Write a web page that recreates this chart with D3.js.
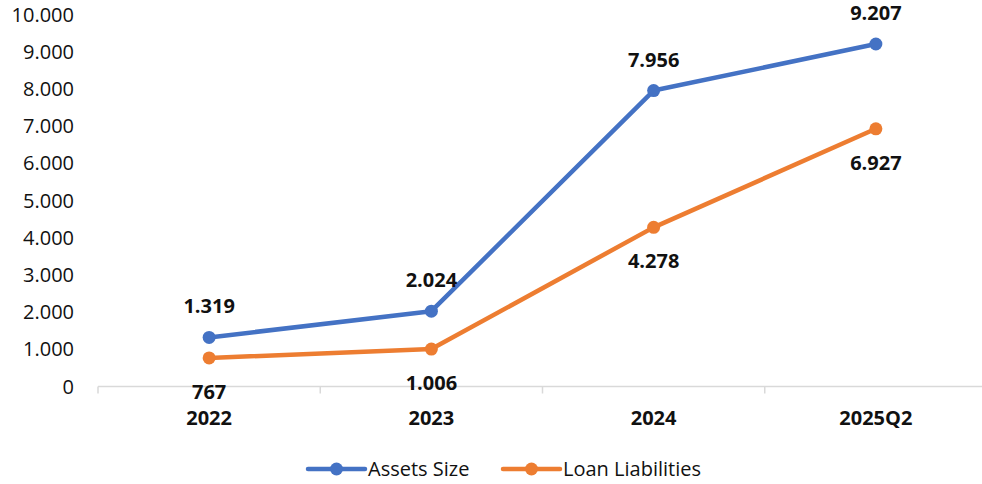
<!DOCTYPE html>
<html>
<head>
<meta charset="utf-8">
<script src="https://cdn.jsdelivr.net/npm/d3@7"></script>
<style>
  body { margin: 0; background: #fff; }
  svg { display: block; font-family: "Open Sans", "Liberation Sans", sans-serif; }
</style>
</head>
<body>
<svg id="grafico" width="982" height="484"></svg>
<script>
// datos del grafico
var categorias = ["2022", "2023", "2024", "2025Q2"];
var activos = [1319, 2024, 7956, 9207];
var prestamos = [767, 1006, 4278, 6927];
var ticksY = [0, 1000, 2000, 3000, 4000, 5000, 6000, 7000, 8000, 9000, 10000];

var series = [
  { nombre: "Assets Size", valores: activos, color: "#4472C4", arriba: true },
  { nombre: "Loan Liabilities", valores: prestamos, color: "#ED7D31", arriba: false }
];

// miles con punto, como en el original
var loc = d3.formatLocale({ decimal: ",", thousands: ".", grouping: [3], currency: ["", ""] });
var fmt = loc.format(",d");

var TAM = 20;
var svg = d3.select("#grafico");

var x = d3.scaleBand().domain(categorias).range([98, 987]);
var y = d3.scaleLinear().domain([0, 10000]).range([386.5, 14.5]);

// eje y, solo etiquetas
svg.append("g")
  .selectAll("text")
  .data(ticksY)
  .enter().append("text")
  .attr("x", 74)
  .attr("y", function (d) { return y(d); })
  .attr("dy", "0.35em")
  .attr("text-anchor", "end")
  .attr("font-size", TAM)
  .attr("fill", "#111")
  .text(function (d) { return fmt(d); });

// eje x: linea gris con marcas entre categorias
var ejeX = svg.append("g");
ejeX.append("line")
  .attr("x1", x.range()[0]).attr("x2", x.range()[1])
  .attr("y1", y(0)).attr("y2", y(0))
  .attr("stroke", "#d9d9d9").attr("stroke-width", 1.5);
var bordes = categorias.map(function (c) { return x(c); }).concat([x.range()[1]]);
ejeX.selectAll("line.marca")
  .data(bordes)
  .enter().append("line")
  .attr("class", "marca")
  .attr("x1", function (d) { return d; }).attr("x2", function (d) { return d; })
  .attr("y1", y(0)).attr("y2", y(0) + 7)
  .attr("stroke", "#d9d9d9").attr("stroke-width", 1.5);
ejeX.selectAll("text")
  .data(categorias)
  .enter().append("text")
  .attr("x", function (d) { return x(d) + x.bandwidth() / 2; })
  .attr("y", 418)
  .attr("dy", "0.35em")
  .attr("text-anchor", "middle")
  .attr("font-size", TAM)
  .attr("font-weight", "bold")
  .attr("fill", "#111")
  .text(function (d) { return d; });

var linea = d3.line()
  .x(function (d, i) { return x(categorias[i]) + x.bandwidth() / 2; })
  .y(function (d) { return y(d); });

series.forEach(function (s) {
  var g = svg.append("g");
  g.append("path")
    .attr("d", linea(s.valores))
    .attr("fill", "none")
    .attr("stroke", s.color)
    .attr("stroke-width", 4.5)
    .attr("stroke-linejoin", "round");
  g.selectAll("circle")
    .data(s.valores)
    .enter().append("circle")
    .attr("cx", function (d, i) { return x(categorias[i]) + x.bandwidth() / 2; })
    .attr("cy", function (d) { return y(d); })
    .attr("r", 6.5)
    .attr("fill", s.color);
  g.selectAll("text")
    .data(s.valores)
    .enter().append("text")
    .attr("x", function (d, i) { return x(categorias[i]) + x.bandwidth() / 2; })
    .attr("y", function (d) { return y(d) + (s.arriba ? -31 : 34); })
    .attr("dy", "0.35em")
    .attr("text-anchor", "middle")
    .attr("font-size", TAM)
    .attr("font-weight", "bold")
    .attr("fill", "#111")
    .text(function (d) { return fmt(d); });
});

// leyenda abajo
var posLeyenda = [308, 503];
var leyenda = svg.append("g");
series.forEach(function (s, i) {
  var x0 = posLeyenda[i];
  leyenda.append("line")
    .attr("x1", x0).attr("x2", x0 + 57)
    .attr("y1", 469).attr("y2", 469)
    .attr("stroke", s.color).attr("stroke-width", 4.5)
    .attr("stroke-linecap", "round");
  leyenda.append("circle")
    .attr("cx", x0 + 28.5).attr("cy", 469).attr("r", 6.5)
    .attr("fill", s.color);
  leyenda.append("text")
    .attr("x", x0 + 60).attr("y", 469)
    .attr("dy", "0.35em")
    .attr("font-size", TAM)
    .attr("fill", "#111")
    .text(s.nombre);
});
</script>
</body>
</html>
